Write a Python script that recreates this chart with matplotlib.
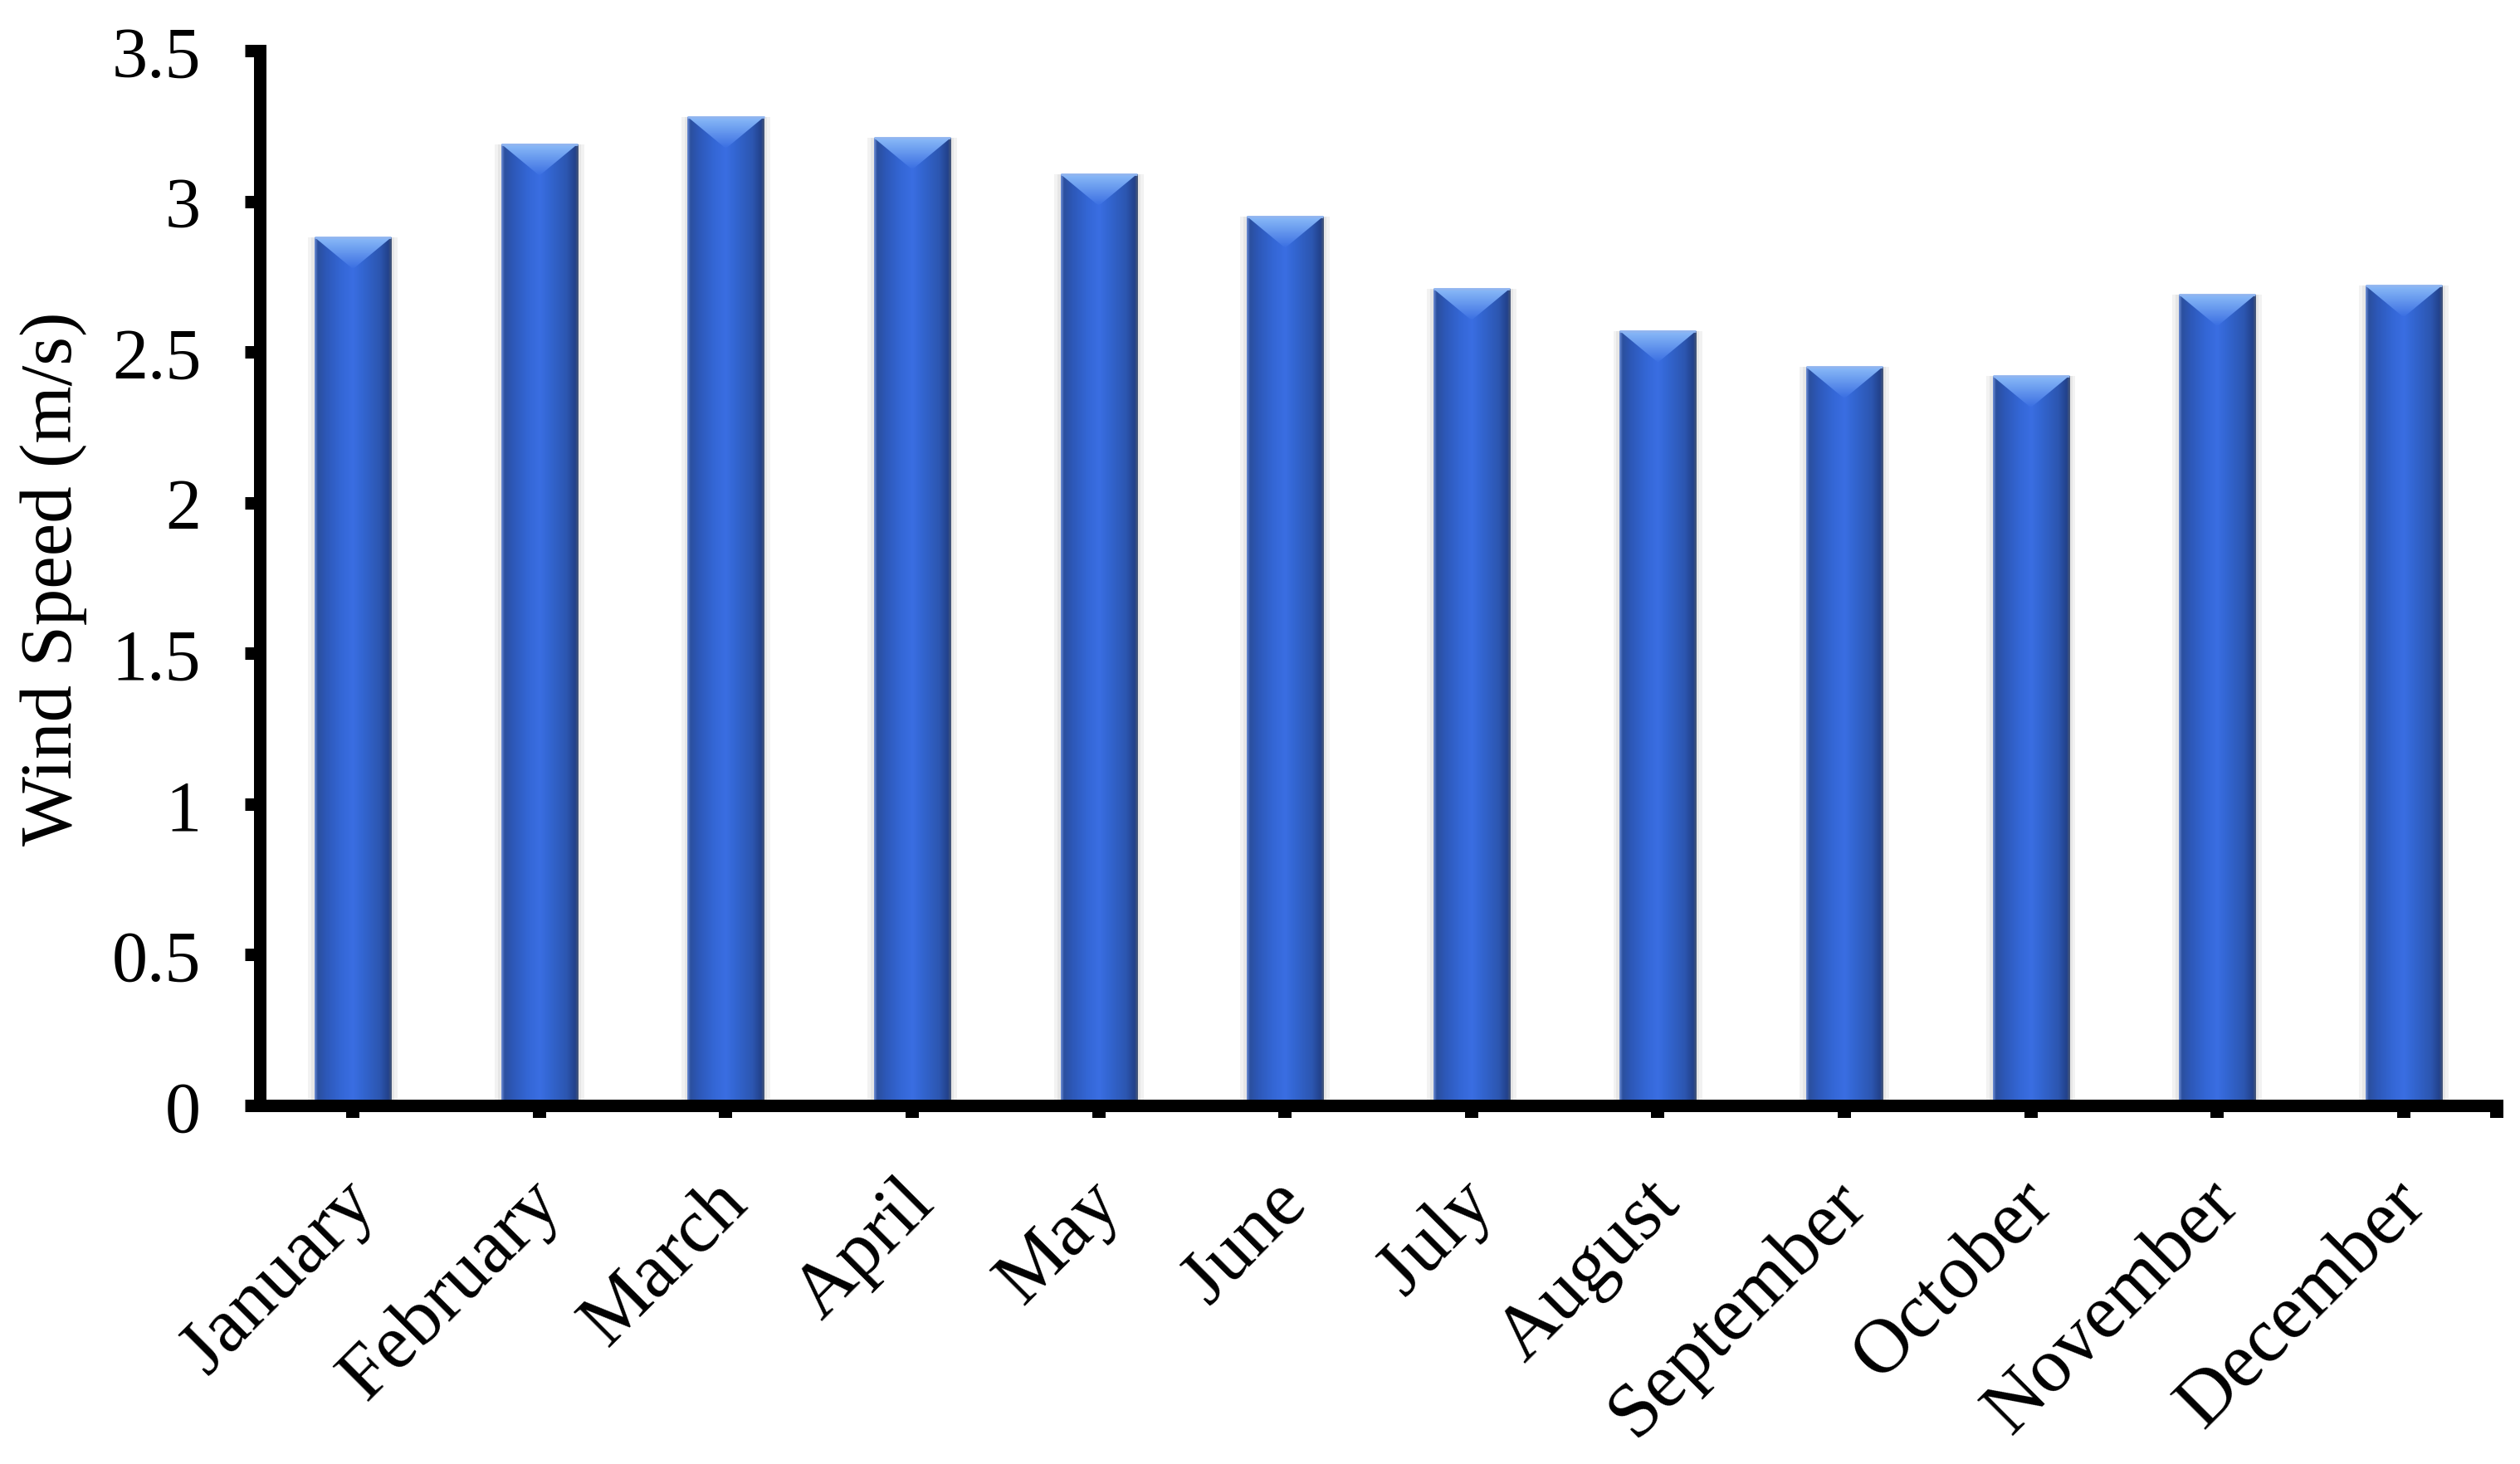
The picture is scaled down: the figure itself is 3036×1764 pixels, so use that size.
import numpy as np
import matplotlib
matplotlib.use("Agg")
import matplotlib.pyplot as plt
import matplotlib.transforms as mtransforms
from matplotlib.colors import LinearSegmentedColormap
from matplotlib.patches import Polygon

# monthly mean wind speed
months = ["January", "February", "March", "April", "May", "June", "July",
          "August", "September", "October", "November", "December"]
wind_speed = [2.88, 3.19, 3.28, 3.21, 3.09, 2.95, 2.71, 2.57, 2.45, 2.42, 2.69, 2.72]
yticks = [0, 0.5, 1, 1.5, 2, 2.5, 3, 3.5]
ytick_labels = ["0", "0.5", "1", "1.5", "2", "2.5", "3", "3.5"]

plt.rcParams["font.family"] = ["Liberation Serif", "DejaVu Serif"]

fig = plt.figure(figsize=(30.36, 17.65), dpi=100)
ax = fig.add_axes([0.1031, 0.2448, 0.8877, 0.7201])

x = np.arange(len(months))
bw = 0.41

# soft grey halo behind the bars
ax.bar(x, wind_speed, width=bw + 0.07, color="#f2f2f2", zorder=1)
ax.bar(x, wind_speed, width=bw + 0.035, color="#e6e6e6", zorder=1)
bars = ax.bar(x, wind_speed, width=bw, color="#3160c8", zorder=2)

# horizontal shading across each bar (cylinder look)
body = LinearSegmentedColormap.from_list("body", [
    (0.0, "#6f8fd6"), (0.04, "#2b4f9e"), (0.15, "#2d58b8"), (0.35, "#3467d6"),
    (0.5, "#3a6ee2"), (0.62, "#3366d2"), (0.85, "#2c56b0"), (0.96, "#22418a"),
    (1.0, "#4a5a78")])
grad = np.linspace(0, 1, 256).reshape(1, -1)
top_cm = LinearSegmentedColormap.from_list("top", ["#3a6ee2", "#8cbcf8"])
vgrad = np.linspace(0, 1, 64).reshape(-1, 1)

for b in bars:
    x0, w, h = b.get_x(), b.get_width(), b.get_height()
    im = ax.imshow(grad, cmap=body, aspect="auto", extent=(x0, x0 + w, 0, h),
                   zorder=3, interpolation="bicubic")
    im.set_clip_path(b)
    # light bevel triangle on top of the bar
    d = 0.105
    tri = Polygon([(x0, h), (x0 + w, h), (x0 + w / 2, h - d)], closed=True,
                  facecolor="none", edgecolor="none", zorder=4)
    ax.add_patch(tri)
    im2 = ax.imshow(vgrad, cmap=top_cm, aspect="auto", extent=(x0, x0 + w, h - d, h),
                    origin="lower", zorder=4, interpolation="bicubic")
    im2.set_clip_path(tri)
    ax.plot([x0, x0 + w], [h, h], color="#8fb4f0", lw=2, zorder=5,
            solid_capstyle="butt")

ax.set_xlim(-0.5, 11.5)
ax.set_ylim(0, 3.5)

for s in ["top", "right"]:
    ax.spines[s].set_visible(False)
for s in ["left", "bottom"]:
    ax.spines[s].set_linewidth(10.8)
    ax.spines[s].set_zorder(6)

ax.set_yticks(yticks)
ax.set_yticklabels(ytick_labels)
ax.set_xticks(x)
ax.set_xticklabels(months, rotation=45, ha="right", va="center",
                   rotation_mode="anchor")
ax.set_xticks([11.5], minor=True)

ax.tick_params(axis="y", length=13, width=10.8, labelsize=62, pad=38, direction="out")
ax.tick_params(axis="x", which="both", length=11, width=11.5, labelsize=67, pad=64,
               direction="out")

# nudge the rotated month labels slightly to the right
shift = mtransforms.ScaledTranslation(0.13, 0, fig.dpi_scale_trans)
for lab in ax.get_xticklabels():
    lab.set_transform(lab.get_transform() + shift)

ax.set_ylabel("Wind Speed (m/s)", fontsize=64)
ax.yaxis.set_label_coords(-0.077, 0.5)

fig.savefig("out.png", dpi=100, facecolor="white")
